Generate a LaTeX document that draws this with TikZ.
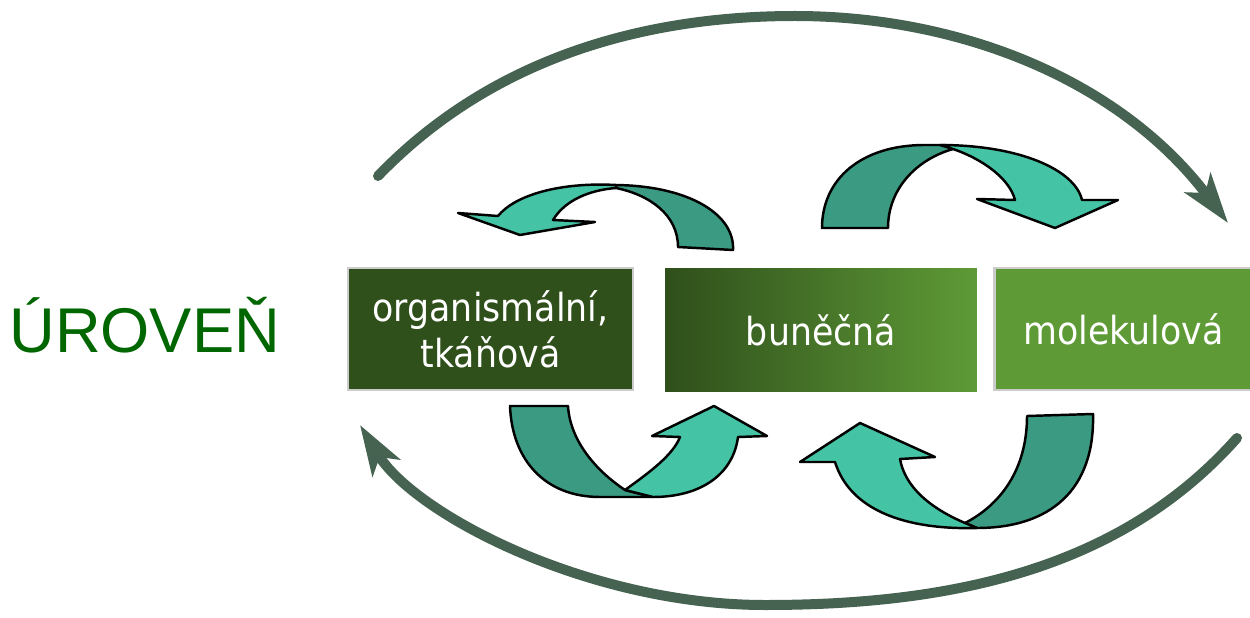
\documentclass[tikz,border=0pt]{standalone}
\usepackage{fontspec}
\setmainfont{Liberation Sans}
\newfontfamily\boxfont[FakeStretch=0.9]{DejaVu Sans}
\usetikzlibrary{arrows.meta}
\definecolor{darkleaf}{RGB}{47,79,27}
\definecolor{lightleaf}{RGB}{94,154,54}
\definecolor{looparccol}{RGB}{70,99,82}
\definecolor{ribbonfront}{RGB}{69,195,165}
\definecolor{ribbonback}{RGB}{58,154,130}
\definecolor{titlegreen}{RGB}{0,102,0}
\tikzset{
  levelbox/.style={minimum height=2.44cm, inner sep=0pt, align=center, text=white, font=\boxfont\fontsize{22}{26}\selectfont},
  ribfront/.style={fill=ribbonfront, draw=black, line width=1.4pt, line join=round},
  ribback/.style={fill=ribbonback, draw=black, line width=1.4pt, line join=round},
  looparc/.style={draw=looparccol, line width=0.2cm, line cap=round, -{Stealth[length=1cm,width=0.64cm,inset=0.25cm]}}
}
\begin{document}
\begin{tikzpicture}[x=0.02cm, y=-0.02cm]
    \useasboundingbox (0,0) rectangle (1250,618);
    \node[anchor=base west, inner sep=0pt, text=titlegreen, font=\fontsize{36}{40}\selectfont] (title) at (9,352) {ÚROVEŇ};

    \node[levelbox, fill=darkleaf, draw=black!20, line width=1.5pt, minimum width=5.7cm] (organ) at (490.5,329) {organismální,\\tkáňová};
    \node[levelbox, left color=darkleaf, right color=lightleaf, minimum width=6.24cm, minimum height=2.48cm] (cell) at (821,330) {buněčná};
    \node[levelbox, fill=lightleaf, draw=black!20, line width=1.5pt, minimum width=5.16cm] (mol) at (1123.5,329) {molekulová};

    \coordinate (topstart) at (378,176); \coordinate (toppeak) at (795,16); \coordinate (topend) at (1228,223);
    \coordinate (botstart) at (1237,438); \coordinate (botpeak) at (765,605); \coordinate (botend) at (360,425);
    \draw[looparc] (topstart) .. controls (490,60) and (640,16) .. (toppeak) .. controls (960,16) and (1120,80) .. (topend);
    \draw[looparc] (botstart) .. controls (1120,570) and (950,605) .. (botpeak) .. controls (590,605) and (415,515) .. (botend);

    \draw[ribback] (733,250) .. controls (735,215) and (690,186) .. (616,185) -- (616,188) .. controls (650,195) and (678,215) .. (678,247) -- cycle;
    \draw[ribfront] (616,185) .. controls (560,182) and (515,195) .. (498,216) -- (458,213) -- (520,235) -- (595,222) -- (553,220) .. controls (565,200) and (590,190) .. (616,188) -- cycle;

    \draw[ribback] (822,228) .. controls (822,180) and (860,145) .. (925,145) -- (945,145) -- (953,149) .. controls (915,160) and (888,190) .. (888,228) -- cycle;
    \draw[ribfront] (940,145) .. controls (1020,145) and (1075,170) .. (1082,200) -- (1118,200) -- (1055,228) -- (977,199) -- (1015,200) .. controls (1010,180) and (985,160) .. (953,149) -- cycle;

    \draw[ribback] (510,406) .. controls (512,460) and (545,497) .. (600,497) -- (653,497) -- (625,490) .. controls (595,470) and (570,440) .. (568,406) -- cycle;
    \draw[ribfront] (625,490) .. controls (650,472) and (673,455) .. (680,437) -- (652,436) -- (714,406) -- (767,436) -- (738,437) .. controls (733,475) and (700,497) .. (653,497) -- cycle;

    \draw[ribback] (1093,414) .. controls (1095,490) and (1050,528) .. (977,528) -- (965,523) .. controls (1000,505) and (1027,470) .. (1027,416) -- cycle;
    \draw[ribfront] (965,523) .. controls (930,508) and (905,487) .. (900,459) -- (935,457) -- (860,423) -- (800,462) -- (835,462) .. controls (850,510) and (905,530) .. (977,528) -- cycle;
\end{tikzpicture}
\end{document}
